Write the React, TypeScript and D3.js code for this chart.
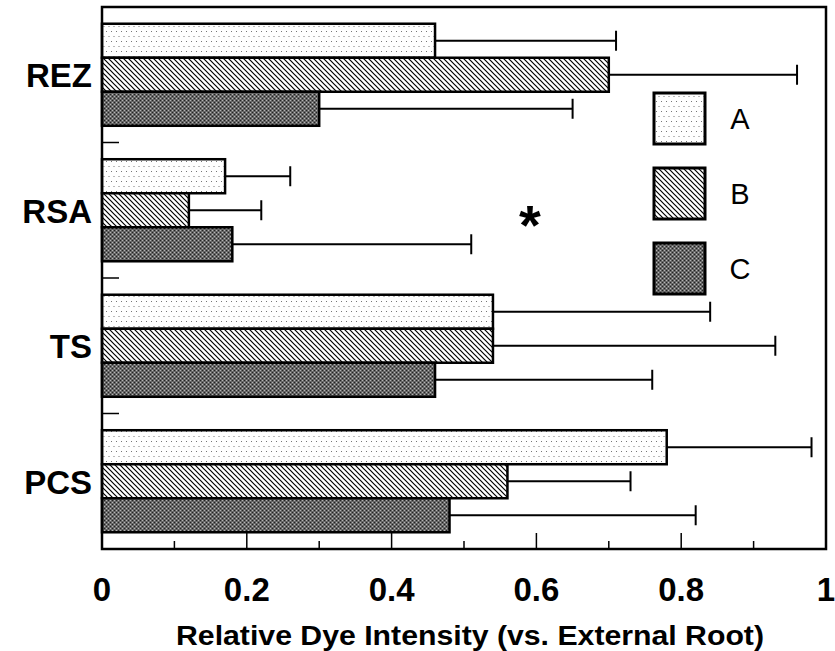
import React from "react";
import * as d3 from "d3";

const categories = ["REZ", "RSA", "TS", "PCS"];
const seriesNames = ["A", "B", "C"];
const meanA = [0.46, 0.17, 0.54, 0.78];
const meanB = [0.7, 0.12, 0.54, 0.56];
const meanC = [0.3, 0.18, 0.46, 0.48];
const errTopA = [0.71, 0.26, 0.84, 0.98];
const errTopB = [0.96, 0.22, 0.93, 0.73];
const errTopC = [0.65, 0.51, 0.76, 0.82];
const xTicks = [0, 0.2, 0.4, 0.6, 0.8, 1];
const xMinorTicks = [0.1, 0.3, 0.5, 0.7, 0.9];

const W = 835;
const H = 651;
const left = 102;
const right = 826;
const top = 7;
const bottom = 549;
const FONT = "'Liberation Sans', Arial, Helvetica, sans-serif";

export default function App() {
  const x = d3.scaleLinear().domain([0, 1]).range([left, right]);
  const y = d3
    .scaleBand<string>()
    .domain(categories)
    .range([top, bottom])
    .paddingInner(0.247)
    .paddingOuter(0.1235);
  const sub = d3.scaleBand<string>().domain(seriesNames).range([0, y.bandwidth()]);
  const means = [meanA, meanB, meanC];
  const errs = [errTopA, errTopB, errTopC];
  const fills = ["url(#patA)", "url(#patB)", "url(#patC)"];
  const step = y.step();
  const boundaries = categories.slice(0, -1).map(
    (c) => (y(c) as number) + y.bandwidth() + (step * 0.247) / 2
  );

  const legendY = d3.scaleBand<string>().domain(seriesNames).range([93, 294]).paddingInner(0.32);

  return (
    <svg
      width={W}
      height={H}
      style={{ position: "absolute", left: 0, top: 0, background: "#fff" }}
    >
      <defs>
        <pattern id="patA" width="5" height="10" patternUnits="userSpaceOnUse">
          <rect width="5" height="10" fill="#fff" />
          <rect x="1" y="1" width="1" height="1" fill="#777" />
          <rect x="3.5" y="6" width="1" height="1" fill="#777" />
        </pattern>
        <pattern id="patB" width="5" height="5" patternUnits="userSpaceOnUse">
          <rect width="5" height="5" fill="#fff" />
          <path d="M-1,-1 L6,6 M-1,4 L1,6 M4,-1 L6,1" stroke="#000" strokeWidth="1.2" />
        </pattern>
        <pattern id="patC" width="4" height="4" patternUnits="userSpaceOnUse">
          <rect width="4" height="4" fill="#666" />
          <rect x="0" y="0" width="1" height="1" fill="#222" />
          <rect x="2" y="2" width="1" height="1" fill="#222" />
          <rect x="2" y="0" width="1" height="1" fill="#b5b5b5" />
          <rect x="0" y="2" width="1" height="1" fill="#b5b5b5" />
        </pattern>
      </defs>

      {/* bars */}
      {categories.map((c, i) => (
        <g key={c}>
          {seriesNames.map((s, j) => {
            const by = (y(c) as number) + (sub(s) as number);
            const bh = sub.bandwidth();
            const cy = by + bh / 2;
            return (
              <g key={s}>
                <line
                  x1={x(means[j][i])}
                  x2={x(errs[j][i])}
                  y1={cy}
                  y2={cy}
                  stroke="#000"
                  strokeWidth={2}
                />
                <line
                  x1={x(errs[j][i])}
                  x2={x(errs[j][i])}
                  y1={cy - 10}
                  y2={cy + 10}
                  stroke="#000"
                  strokeWidth={2}
                />
                <rect
                  x={x(0)}
                  y={by}
                  width={x(means[j][i]) - x(0)}
                  height={bh}
                  fill={fills[j]}
                  stroke="#000"
                  strokeWidth={2.5}
                />
              </g>
            );
          })}
          <text
            x={92}
            y={(y(c) as number) + y.bandwidth() / 2 + 1}
            textAnchor="end"
            dominantBaseline="central"
            fontFamily={FONT}
            fontWeight="bold"
            fontSize={33}
          >
            {c}
          </text>
        </g>
      ))}

      {/* frame */}
      <rect
        x={left}
        y={top}
        width={right - left}
        height={bottom - top}
        fill="none"
        stroke="#000"
        strokeWidth={2.5}
      />

      {/* left ticks */}
      {boundaries.map((b, i) => (
        <line key={i} x1={left} x2={left + 17} y1={b} y2={b} stroke="#000" strokeWidth={1.5} />
      ))}

      {/* bottom ticks */}
      {xTicks.map((t) => (
        <line key={"M" + t} x1={x(t)} x2={x(t)} y1={bottom} y2={bottom - 16} stroke="#000" strokeWidth={1.5} />
      ))}
      {xMinorTicks.map((t) => (
        <line key={"m" + t} x1={x(t)} x2={x(t)} y1={bottom} y2={bottom - 8} stroke="#000" strokeWidth={1.5} />
      ))}
      {xTicks.map((t) => (
        <text
          key={"l" + t}
          x={x(t)}
          y={601}
          textAnchor="middle"
          fontFamily={FONT}
          fontWeight="bold"
          fontSize={33}
        >
          {String(t)}
        </text>
      ))}
      <text
        x={470}
        y={645}
        textAnchor="middle"
        fontFamily={FONT}
        fontWeight="bold"
        fontSize={27}
        textLength={588}
        lengthAdjust="spacingAndGlyphs"
      >
        Relative Dye Intensity (vs. External Root)
      </text>

      {/* asterisk */}
      <text x={530} y={244} textAnchor="middle" fontFamily={FONT} fontWeight="bold" fontSize={56}>
        *
      </text>

      {/* legend */}
      {seriesNames.map((s, j) => {
        const ly = legendY(s) as number;
        const h = legendY.bandwidth();
        return (
          <g key={s}>
            <rect x={654} y={ly} width={51} height={h} fill={fills[j]} stroke="#000" strokeWidth={3} />
            <text
              x={740}
              y={ly + h / 2}
              textAnchor="middle"
              dominantBaseline="central"
              fontFamily={FONT}
              fontSize={29}
            >
              {s}
            </text>
          </g>
        );
      })}
    </svg>
  );
}
